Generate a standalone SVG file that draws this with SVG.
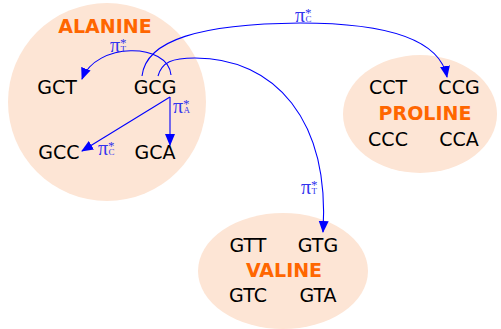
<svg xmlns="http://www.w3.org/2000/svg" width="501" height="329" viewBox="0 0 501 329">
<style>
.bg{fill:#fde5d5;stroke:none}
.cod{font-family:"DejaVu Sans",sans-serif;font-size:19px;fill:#000;text-anchor:middle}
.aa{font-family:"DejaVu Sans",sans-serif;font-weight:bold;font-size:19px;fill:#ff6600;text-anchor:middle}
.e{fill:none;stroke:#0000ff;stroke-width:1.1}
.pi{font-family:"Liberation Serif","DejaVu Serif",serif;font-size:20px;fill:#3333ee}
.st{font-size:13px}
.sb{font-size:9px}
</style>
<defs>
<marker id="ah" markerUnits="userSpaceOnUse" markerWidth="12" markerHeight="12" viewBox="0 0 12 12" refX="11" refY="6" orient="auto">
<path d="M0,1 L12,6 L0,11 Z" fill="#0000ff"/>
</marker>
</defs>
<g id="alanine">
<circle class="bg" cx="107" cy="102" r="99"/>
<text class="aa" x="105" y="33">ALANINE</text>
<text class="cod" x="57" y="94">GCT</text>
<text class="cod" x="155" y="94">GCG</text>
<text class="cod" x="59" y="159">GCC</text>
<text class="cod" x="155" y="159">GCA</text>
</g>
<g id="proline">
<ellipse class="bg" cx="420" cy="114" rx="77" ry="59"/>
<text class="cod" x="388" y="94">CCT</text>
<text class="cod" x="459" y="94">CCG</text>
<text class="aa" x="425" y="120">PROLINE</text>
<text class="cod" x="388" y="146">CCC</text>
<text class="cod" x="459" y="146">CCA</text>
</g>
<g id="valine">
<ellipse class="bg" cx="283" cy="271" rx="85" ry="58"/>
<text class="cod" x="248" y="252">GTT</text>
<text class="cod" x="318" y="252">GTG</text>
<text class="aa" x="284" y="277">VALINE</text>
<text class="cod" x="248" y="302">GTC</text>
<text class="cod" x="318" y="302">GTA</text>
</g>
<g id="connectors">
<path class="e" d="M171,75 C168,42 96,42 82,79" marker-end="url(#ah)"/>
<path class="e" d="M170,97 L170,145" marker-end="url(#ah)"/>
<path class="e" d="M170,97 L82,151" marker-end="url(#ah)"/>
<path class="e" d="M142,76 C146,40 200,24 300,23 C390,23 440,40 447,77" marker-end="url(#ah)"/>
<path class="e" d="M158,76 C162,62 172,58 195,58 C275,58 330,120 323,232" marker-end="url(#ah)"/>
<text class="pi" x="110" y="52">π<tspan class="st" dy="-5">*</tspan><tspan class="sb" dx="-6" dy="5">T</tspan></text>
<text class="pi" x="173" y="113">π<tspan class="st" dy="-5">*</tspan><tspan class="sb" dx="-6" dy="5">A</tspan></text>
<text class="pi" x="98" y="155">π<tspan class="st" dy="-5">*</tspan><tspan class="sb" dx="-6" dy="5">C</tspan></text>
<text class="pi" x="295" y="22">π<tspan class="st" dy="-5">*</tspan><tspan class="sb" dx="-6" dy="5">C</tspan></text>
<text class="pi" x="301" y="194">π<tspan class="st" dy="-5">*</tspan><tspan class="sb" dx="-6" dy="5">T</tspan></text>
</g>
</svg>
